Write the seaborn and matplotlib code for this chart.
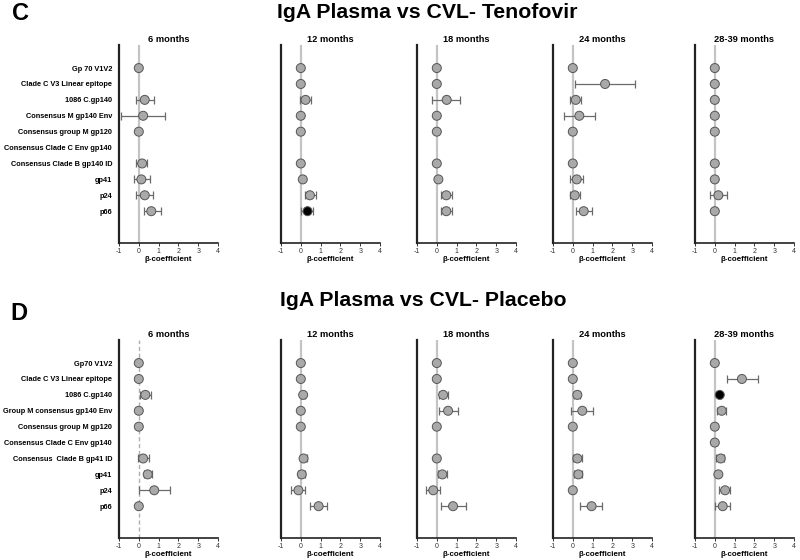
import numpy as np
import pandas as pd
import matplotlib
matplotlib.use("Agg")
import matplotlib.pyplot as plt
import seaborn as sns

##############################################
### DATA #####################################
##############################################

timepoints = ["6 months", "12 months", "18 months", "24 months", "28-39 months"]

antigens_teno = ["Gp 70 V1V2", "Clade C V3 Linear epitope", "1086 C.gp140",
                 "Consensus M gp140 Env", "Consensus group M gp120",
                 "Consensus Clade C Env gp140", "Consensus Clade B gp140 ID",
                 "gp41", "p24", "p66"]
antigens_plac = ["Gp70 V1V2", "Clade C V3 Linear epitope", "1086 C.gp140",
                 "Group M consensus gp140 Env", "Consensus group M gp120",
                 "Consensus Clade C Env gp140", "Consensus  Clade B gp41 ID",
                 "gp41", "p24", "p66"]

nan = np.nan

# Tenofovir: estimate, lower CI, upper CI (one list per timepoint)
teno_est = [
    [0, nan, 0.30, 0.22, 0, nan, 0.17, 0.13, 0.30, 0.63],
    [0, 0, 0.24, 0, 0, nan, 0, 0.10, 0.46, 0.34],
    [0, 0, 0.50, 0, 0, nan, 0, 0.08, 0.48, 0.48],
    [0, 1.63, 0.15, 0.33, 0, nan, 0, 0.20, 0.10, 0.55],
    [0, 0, 0, 0, 0, nan, 0, 0, 0.18, 0],
]
teno_lo = [
    [0, nan, -0.15, -0.90, 0, nan, -0.12, -0.23, -0.12, 0.25],
    [0, 0, -0.03, 0, 0, nan, 0, 0.05, 0.20, 0.02],
    [0, 0, -0.22, 0, 0, nan, 0, 0.03, 0.20, 0.20],
    [0, 0.13, -0.12, -0.42, 0, nan, 0, -0.13, -0.12, 0.18],
    [0, 0, 0, 0, 0, nan, 0, 0, -0.25, 0],
]
teno_hi = [
    [0, nan, 0.77, 1.33, 0, nan, 0.43, 0.55, 0.72, 1.10],
    [0, 0, 0.53, 0, 0, nan, 0, 0.15, 0.75, 0.60],
    [0, 0, 1.18, 0, 0, nan, 0, 0.13, 0.75, 0.75],
    [0, 3.15, 0.40, 1.12, 0, nan, 0, 0.52, 0.37, 0.98],
    [0, 0, 0, 0, 0, nan, 0, 0, 0.63, 0],
]
teno_sig = [[], ["p66"], [], [], []]

# Placebo
plac_est = [
    [0, 0, 0.33, 0, 0, nan, 0.22, 0.45, 0.78, 0],
    [0, 0, 0.12, 0, 0, nan, 0.14, 0.05, -0.12, 0.90],
    [0, 0, 0.32, 0.57, 0, nan, 0, 0.28, -0.18, 0.82],
    [0, 0, 0.23, 0.48, 0, nan, 0.23, 0.28, 0, 0.95],
    [0, 1.37, 0.25, 0.35, 0, 0, 0.30, 0.18, 0.52, 0.40],
]
plac_lo = [
    [0, 0, 0.05, 0, 0, nan, -0.05, 0.27, 0.00, 0],
    [0, 0, 0.02, 0, 0, nan, 0.00, -0.12, -0.49, 0.44],
    [0, 0, 0.10, 0.12, 0, nan, 0, 0.05, -0.53, 0.22],
    [0, 0, 0.05, -0.07, 0, nan, 0.03, 0.05, 0, 0.37],
    [0, 0.60, 0.18, 0.12, 0, 0, 0.08, 0.08, 0.22, 0.03],
]
plac_hi = [
    [0, 0, 0.60, 0, 0, nan, 0.50, 0.67, 1.58, 0],
    [0, 0, 0.22, 0, 0, nan, 0.29, 0.22, 0.19, 1.34],
    [0, 0, 0.57, 1.05, 0, nan, 0, 0.50, 0.15, 1.47],
    [0, 0, 0.37, 1.02, 0, nan, 0.45, 0.45, 0, 1.48],
    [0, 2.18, 0.32, 0.58, 0, 0, 0.48, 0.28, 0.77, 0.77],
]
plac_sig = [[], [], [], [], ["1086 C.gp140"]]

##############################################
### PLOT #####################################
##############################################

sns.set_style("white")
plt.rcParams["font.family"] = ["Liberation Sans", "DejaVu Sans"]
plt.rcParams["axes.unicode_minus"] = False
plt.rcParams["text.color"] = "black"
plt.rcParams["axes.labelcolor"] = "black"
plt.rcParams["ytick.color"] = "black"

fig = plt.figure(figsize=(8, 5.6), dpi=100)

lefts = [119, 281, 417, 553, 695]
width = 99


def draw_block(antigens, est, lo, hi, sig, bottom_px, top_px, dashed_first):
    for i, tp in enumerate(timepoints):
        ax = fig.add_axes([lefts[i] / 800, 1 - bottom_px / 560,
                           width / 800, (bottom_px - top_px) / 560])
        df = pd.DataFrame({"antigen": antigens, "est": est[i],
                           "lo": lo[i], "hi": hi[i]})
        df["row"] = np.arange(len(antigens))
        df["sig"] = df["antigen"].isin(sig[i])

        # zero reference line
        if dashed_first and i == 0:
            ax.axvline(0, color="#b0b0b0", lw=1.0, ls=(0, (3, 2)), zorder=0)
        else:
            ax.axvline(0, color="#c4c4c4", lw=1.6, zorder=0)

        d = df.dropna(subset=["est"])
        has_err = d[(d["hi"] - d["lo"]) > 0.01]
        ax.errorbar(has_err["est"], has_err["row"],
                    xerr=[has_err["est"] - has_err["lo"], has_err["hi"] - has_err["est"]],
                    fmt="none", ecolor="#6a6a6a", elinewidth=0.9, capsize=3,
                    capthick=0.9, zorder=1)
        sns.scatterplot(data=d, x="est", y="row", hue="sig",
                        palette={False: "#a9a9a9", True: "#000000"},
                        edgecolor="#555555", linewidth=0.7, s=42,
                        legend=False, ax=ax, zorder=2)

        ax.set_xlim(-1, 4)
        ax.set_ylim(11.0, -1.45)
        ax.set_xticks(range(-1, 5))
        ax.tick_params(axis="x", labelsize=5, length=2.5, width=0.7, pad=1,
                       bottom=True, colors="#333333")
        ax.set_xlabel("β-coefficient", fontsize=5.8, fontweight="bold", labelpad=1)
        if i == 0:
            ax.set_yticks(range(len(antigens)))
            ax.set_yticklabels(antigens, fontsize=5.3, fontweight="bold")
            ax.tick_params(axis="y", length=0, pad=5)
        else:
            ax.set_yticks([])
        ax.set_ylabel("")
        ax.set_title(tp, fontsize=6.7, fontweight="bold", pad=2)
        for s in ["top", "right"]:
            ax.spines[s].set_visible(False)
        ax.spines["left"].set_linewidth(1.6)
        ax.spines["left"].set_color("#222222")
        ax.spines["bottom"].set_linewidth(1.2)
        ax.spines["bottom"].set_color("#222222")


draw_block(antigens_teno, teno_est, teno_lo, teno_hi, teno_sig, 243, 45, False)
draw_block(antigens_plac, plac_est, plac_lo, plac_hi, plac_sig, 538, 340, True)

fig.text(12 / 800, 1 - 14 / 560, "C", fontsize=17, fontweight="bold", va="center")
fig.text(427 / 800, 1 - 13 / 560, "IgA Plasma vs CVL- Tenofovir", fontsize=15.3,
         fontweight="bold", ha="center", va="center")
fig.text(10 / 800, 1 - 313 / 560, "D", fontsize=17, fontweight="bold", va="center")
fig.text(423 / 800, 1 - 301 / 560, "IgA Plasma vs CVL- Placebo", fontsize=15.3,
         fontweight="bold", ha="center", va="center")

fig.savefig("out.png", dpi=100)
